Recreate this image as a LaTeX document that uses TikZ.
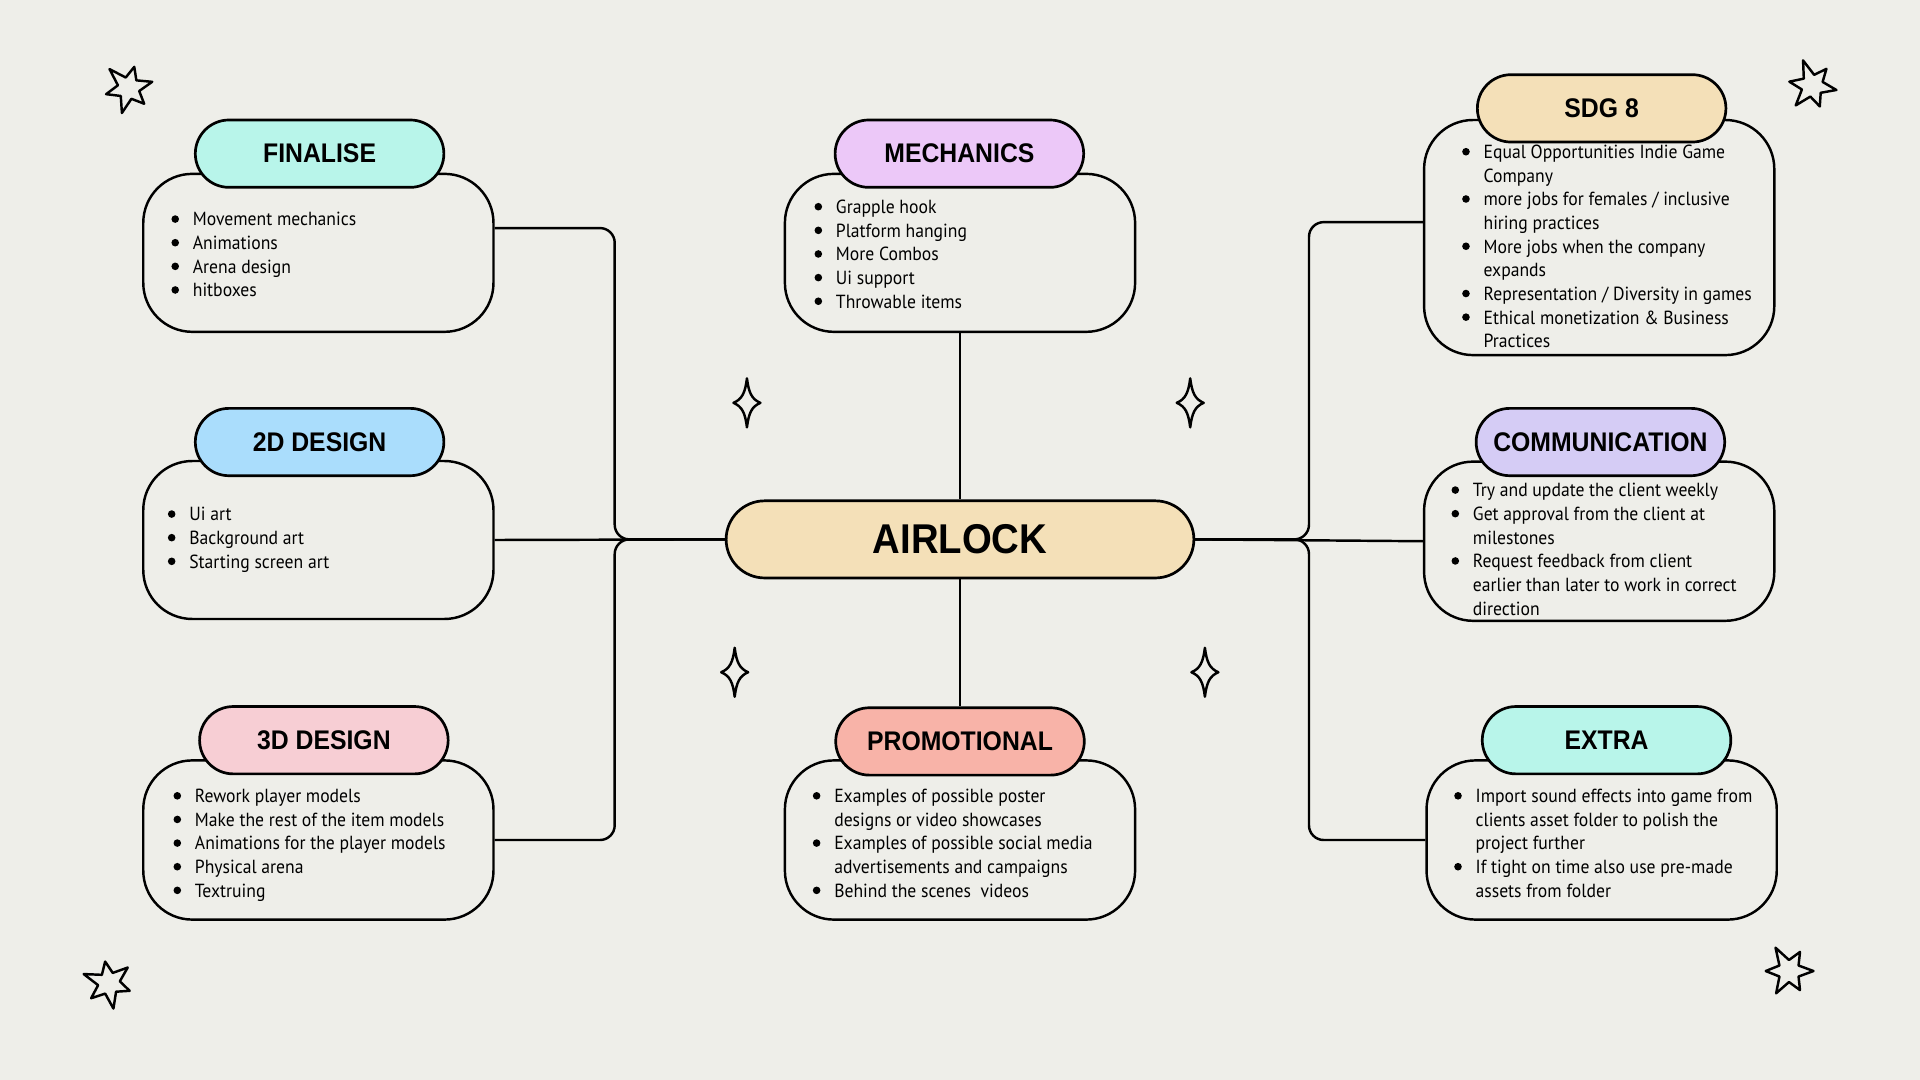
\documentclass[tikz,border=0pt]{standalone}
\usepackage{fontspec}
\setmainfont{PT Sans}[FakeStretch=0.93]
\newfontfamily\hdfont[FakeStretch=0.92]{Liberation Sans}
\usetikzlibrary{calc}

\definecolor{paper}{HTML}{EEEEE9}
\definecolor{mint}{HTML}{B8F5EA}
\definecolor{lilac}{HTML}{ECC8F8}
\definecolor{wheat}{HTML}{F4E0B8}
\definecolor{sky}{HTML}{AADDFC}
\definecolor{blush}{HTML}{F7CED4}
\definecolor{salmon}{HTML}{F8B3A8}
\definecolor{lavender}{HTML}{D5CCF5}

\newcommand{\dotmark}{\tikz[baseline=0pt, x=1pt, y=1pt]\fill (3.1,5.6) circle[radius=3.1];}
\newcommand{\itm}[1]{\strut\makebox[17.5pt][l]{\dotmark}#1}
\newcommand{\cnt}[1]{\hspace*{17.5pt}#1}
\newcommand{\doodlestar}[2]{%
  \draw[doodle, shift={(#1)}, rotate=#2]
    (0:20) -- (30:9) -- (60:18) -- (90:9) -- (120:21) -- (150:9) --
    (180:19) -- (210:9) -- (240:22) -- (270:9) -- (300:18) -- (330:9) -- cycle;}
\newcommand{\sparkle}[1]{%
  \draw[doodle, shift={(#1)}]
    (0,-20) .. controls (1.5,-8) and (4,-3) .. (11,0)
    .. controls (4,3) and (1.5,8) .. (0,20)
    .. controls (-1.5,8) and (-4,3) .. (-11,0)
    .. controls (-4,-3) and (-1.5,-8) .. (0,-20) -- cycle;}

\begin{document}
\begin{tikzpicture}[x=1pt, y=-1pt,
    hdr/.style={draw, line width=2.2pt, rounded corners=27.5pt,
      minimum width=203pt, minimum height=55pt, inner sep=0pt,
      font=\hdfont\bfseries\fontsize{22}{24}\selectfont},
    body/.style={draw, line width=2pt, rounded corners=40pt,
      minimum width=286pt, minimum height=129pt},
    items/.style={anchor=north west, inner sep=0pt, align=left,
      font=\fontsize{15.5}{19.3}\selectfont},
    link/.style={line width=2pt, rounded corners=12pt},
    doodle/.style={line width=2pt, line join=round}]

    % background
    \useasboundingbox (0,0) rectangle (1568,882);
    \fill[paper] (0,0) rectangle (1568,882);

    % bodies
    \node[body] (finbody) at (260,206.5) {};
    \node[body] (d2body) at (260,441) {};
    \node[body, minimum height=130pt] (d3body) at (260,686) {};
    \node[body] (mechbody) at (784,206.5) {};
    \node[body, minimum height=130pt] (promobody) at (784,686) {};
    \node[body, minimum height=192pt] (sdgbody) at (1306,194) {};
    \node[body, minimum height=130pt] (commbody) at (1306,442) {};
    \node[body, minimum height=130pt] (extbody) at (1308,686) {};

    % headers
    \node[hdr, fill=mint] (fin) at (261,125.5) {FINALISE};
    \node[hdr, fill=sky] (d2) at (261,361) {2D DESIGN};
    \node[hdr, fill=blush] (d3) at (264.5,604.5) {3D DESIGN};
    \node[hdr, fill=lilac] (mech) at (783.5,125.5) {MECHANICS};
    \node[hdr, fill=salmon] (promo) at (784,605.5) {PROMOTIONAL};
    \node[hdr, fill=wheat] (sdg) at (1308,88.5) {SDG 8};
    \node[hdr, fill=lavender] (comm) at (1307,361) {COMMUNICATION};
    \node[hdr, fill=mint] (ext) at (1312,604.5) {EXTRA};

    \node[hdr, fill=wheat, minimum width=382pt, minimum height=63pt,
      rounded corners=31.5pt, font=\hdfont\bfseries\fontsize{34}{36}\selectfont]
      (air) at (784,440.5) {AIRLOCK};

    % lists
    \node[items] (fintxt) at (139.8,170.8) {\itm{Movement mechanics}\\
      \itm{Animations}\\ \itm{Arena design}\\ \itm{hitboxes}};
    \node[items] (d2txt) at (136.9,411.7) {\itm{Ui art}\\
      \itm{Background art}\\ \itm{Starting screen art}};
    \node[items] (d3txt) at (141.5,641.8) {\itm{Rework player models}\\
      \itm{Make the rest of the item models}\\
      \itm{Animations for the player models}\\
      \itm{Physical arena}\\ \itm{Textruing}};
    \node[items] (mechtxt) at (665,160.7) {\itm{Grapple hook}\\
      \itm{Platform hanging}\\ \itm{More Combos}\\ \itm{Ui support}\\
      \itm{Throwable items}};
    \node[items] (promotxt) at (663.6,641.8) {\itm{Examples of possible poster}\\
      \cnt{designs or video showcases}\\
      \itm{Examples of possible social media}\\
      \cnt{advertisements and campaigns}\\
      \itm{Behind the scenes\ \ videos}};
    \node[items] (sdgtxt) at (1193.9,115.8) {\itm{Equal Opportunities Indie Game}\\
      \cnt{Company}\\
      \itm{more jobs for females / inclusive}\\
      \cnt{hiring practices}\\
      \itm{More jobs when the company}\\
      \cnt{expands}\\
      \itm{Representation / Diversity in games}\\
      \itm{Ethical monetization \& Business}\\
      \cnt{Practices}};
    \node[items] (commtxt) at (1185.2,392.1) {\itm{Try and update the client weekly}\\
      \itm{Get approval from the client at}\\
      \cnt{milestones}\\
      \itm{Request feedback from client}\\
      \cnt{earlier than later to work in correct}\\
      \cnt{direction}};
    \node[items] (exttxt) at (1187.4,641.8) {\itm{Import sound effects into game from}\\
      \cnt{clients asset folder to polish the}\\
      \cnt{project further}\\
      \itm{If tight on time also use pre-made}\\
      \cnt{assets from folder}};

    % connectors
    \coordinate (jl) at (502,440.5);
    \coordinate (jr) at (1069,440.5);
    \draw[link] (finbody.8.3) -| (jl) -- (air.west);
    \draw[link] (d3body.east) -| (jl) -- (air.west);
    \draw[link] (d2body.east) -- (air.west);
    \draw[link] (sdgbody.175.9) -| (jr) -- (air.east);
    \draw[link] (extbody.west) -| (jr) -- (air.east);
    \draw[link] (commbody.west) -- (air.east);
    \draw[link] (mechbody.south) -- (air.north);
    \draw[link] (air.south) -- (promo.north);

    % doodles
    \doodlestar{105,72}{15}
    \doodlestar{1480,70}{-10}
    \doodlestar{89,803}{40}
    \doodlestar{1461,793}{0}
    \sparkle{610,329}
    \sparkle{972,329}
    \sparkle{600,549}
    \sparkle{984,549}

\end{tikzpicture}
\end{document}
